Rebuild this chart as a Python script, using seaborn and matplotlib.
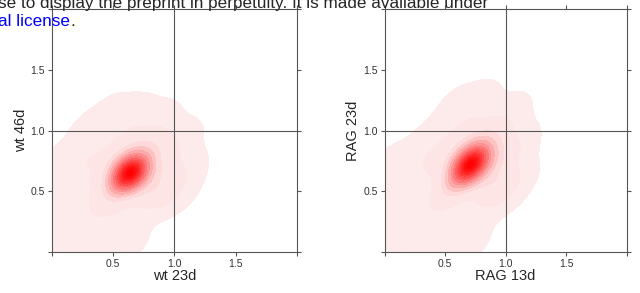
import numpy as np
import pandas as pd
import matplotlib
matplotlib.use("Agg")
import matplotlib.pyplot as plt
from matplotlib.colors import LinearSegmentedColormap
import seaborn as sns

# wt panel: ratio values (23d vs 46d); weights give the pile-up near the peak
wt_x = [0.64, 0.60, 0.68, 0.58, 0.70,
        0.85, 0.48, 0.78, 0.50, 0.92, 0.70, 0.90,
        0.05, 0.20, 0.30, 0.50, 0.70, 0.90, 1.08, 1.12, 1.05, 0.92,
        0.60, 0.62, 0.45, 0.20, 0.05, 0.10, 0.30, 0.45, 0.25, 0.05,
        0.40, 0.30, 0.95, 0.60]
wt_y = [0.65, 0.61, 0.70, 0.68, 0.62,
        0.88, 0.78, 0.48, 0.48, 0.65, 0.88, 0.50,
        0.70, 0.80, 1.00, 1.15, 1.15, 1.10, 0.95, 0.70, 0.52, 0.44,
        0.20, 0.08, 0.05, 0.05, 0.20, 0.45, 0.30, 0.25, 0.55, 0.05,
        0.45, 0.75, 0.80, 0.98]
wt_w = [13, 5, 5, 4, 4,
        2.5, 2, 2, 2, 2, 2, 1.5,
        1, 1, 1, 1, 1, 1, 1, 1, 1, 1,
        1, 1, 1, 1, 1, 1, 1, 1, 1, 1,
        1, 1, 1, 1]

# RAG panel: 13d vs 23d
rag_x = [0.71, 0.66, 0.76, 0.66, 0.77,
         0.92, 0.52, 0.85, 0.55, 0.97, 0.75, 0.95,
         0.05, 0.25, 0.40, 0.60, 0.80, 1.05, 1.12, 1.10, 1.02, 0.92,
         0.68, 0.70, 0.45, 0.20, 0.05, 0.10, 0.30, 0.50, 0.25, 0.05,
         0.45, 0.35, 1.00, 0.62]
rag_y = [0.72, 0.66, 0.79, 0.74, 0.69,
         0.98, 0.82, 0.52, 0.52, 0.75, 1.00, 0.55,
         0.72, 0.78, 0.95, 1.20, 1.25, 1.15, 0.90, 0.62, 0.52, 0.45,
         0.20, 0.08, 0.05, 0.05, 0.20, 0.45, 0.30, 0.30, 0.55, 0.05,
         0.45, 0.70, 0.85, 1.00]
rag_w = wt_w

panels = [
    ("wt 23d", "wt 46d", wt_x, wt_y, wt_w),
    ("RAG 13d", "RAG 23d", rag_x, rag_y, rag_w),
]

ticks = [0, 0.5, 1.0, 1.5, 2.0]
tick_labels = ["", "0.5", "1.0", "1.5", ""]
levels = [0.02, 0.30, 0.50, 0.58, 0.64, 0.70, 0.75, 0.80, 0.84, 0.88,
          0.91, 0.94, 0.96, 0.98, 0.993, 1.0]

sns.set_style("white")
plt.rcParams["font.family"] = ["Liberation Sans", "DejaVu Sans"]

reds = LinearSegmentedColormap.from_list(
    "reds", [(0, "#fdeded"), (0.2, "#fde0e0"), (0.5, "#fc8c8c"), (1, "#ff0000")])

fig = plt.figure(figsize=(6.4, 2.93), dpi=100)
positions = [[0.081, 0.140, 0.383, 0.829], [0.601, 0.140, 0.378, 0.829]]

fig.text(-0.003, 0.973, "se to display the preprint in perpetuity. It is made available under",
         fontsize=12.3, va="baseline", ha="left")
lic = fig.text(-0.003, 0.911, "al license", fontsize=12.3, va="baseline", ha="left",
               color="#0000ff")
fig.canvas.draw()
bb = lic.get_window_extent().transformed(fig.transFigure.inverted())
fig.text(bb.x1, 0.911, ".", fontsize=12.3, va="baseline", ha="left")

for pos, (xl, yl, xs, ys, ws) in zip(positions, panels):
    ax = fig.add_axes(pos)
    df = pd.DataFrame({"x": xs, "y": ys, "w": ws})
    sns.kdeplot(data=df, x="x", y="y", weights="w", fill=True, cmap=reds,
                levels=levels, bw_method=0.45, ax=ax)
    ax.axvline(1.0, color="#555555", lw=0.8, zorder=5)
    ax.axhline(1.0, color="#555555", lw=0.8, zorder=5)
    ax.set_xlim(0, 2)
    ax.set_ylim(0, 2)
    ax.set_xticks(ticks)
    ax.set_xticklabels(tick_labels)
    ax.set_yticks(ticks)
    ax.set_yticklabels(tick_labels)
    ax.tick_params(direction="out", length=3, width=0.8, color="#555555",
                   labelsize=7.5, labelcolor="#333333", pad=2,
                   top=True, right=True, bottom=True, left=True)
    for s in ax.spines.values():
        s.set_color("#555555")
        s.set_linewidth(0.8)
    ax.set_xlabel(xl, fontsize=10.5, labelpad=0)
    ax.set_ylabel(yl, fontsize=10.5, labelpad=2)

fig.savefig("out.png", dpi=100)
